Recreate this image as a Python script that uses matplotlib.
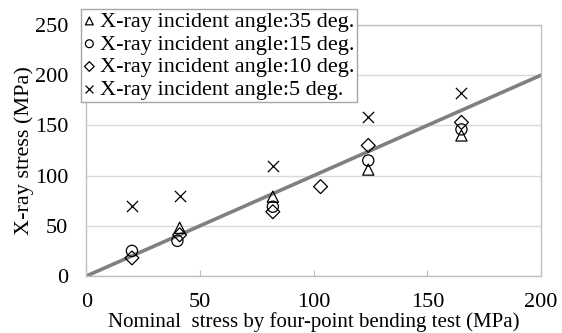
import numpy as np
import matplotlib
matplotlib.use("Agg")
import matplotlib.pyplot as plt

plt.rcParams['font.family'] = ['Liberation Serif', 'DejaVu Serif']

# nominal stress (MPa) and measured X-ray stress for each incident angle
nominal_35 = [41, 82, 124, 165]
stress_35 = [48, 79, 106, 140]

nominal_15 = [20, 40, 82, 124, 165]
stress_15 = [25, 35, 69, 115, 146]

nominal_10 = [20, 41, 82, 103, 124, 165]
stress_10 = [18, 41, 64, 89, 130, 153]

nominal_5 = [20, 41, 82, 124, 165]
stress_5 = [70, 80, 110, 158, 182]

fit_x = [0, 200]
fit_y = [0, 200]

labels = ['X-ray incident angle:35 deg.', 'X-ray incident angle:15 deg.',
          'X-ray incident angle:10 deg.', 'X-ray incident angle:5 deg.']

fig = plt.figure(figsize=(5.62, 3.33), dpi=100)
ax = fig.add_axes([0.1539, 0.1712, 0.8087, 0.7538])

ax.plot(fit_x, fit_y, color='#808080', lw=2.6, zorder=2)

mk = dict(facecolor='none', edgecolor='black', linewidths=0.9, zorder=3)
h1 = ax.scatter(nominal_35, stress_35, marker='^', s=65, **mk)
h2 = ax.scatter(nominal_15, stress_15, marker='o', s=65, **mk)
h3 = ax.scatter(nominal_10, stress_10, marker='D', s=50, **mk)
h4 = ax.scatter(nominal_5, stress_5, marker='x', s=65, c='black', linewidths=0.9, zorder=3)

ax.set_xlim(0, 200)
ax.set_ylim(0, 250)
ax.set_xticks(np.arange(0, 201, 50))
ax.set_yticks(np.arange(0, 251, 50))
ax.yaxis.grid(True, color='#d9d9d9', lw=1)
ax.set_axisbelow(True)
for s in ax.spines.values():
    s.set_color('#bfbfbf')
    s.set_linewidth(1)

fs = 16
ax.tick_params(axis='x', direction='in', length=4, color='#bfbfbf',
               labelsize=fs, pad=12)
ax.tick_params(axis='y', length=0, labelsize=fs, pad=13)

ax.set_xlabel('Nominal  stress by four-point bending test (MPa)', fontsize=15,
              labelpad=0)
ax.set_ylabel('X-ray stress (MPa)', fontsize=fs, labelpad=1)

leg = fig.legend([h1, h2, h3, h4], labels, loc='upper left',
                 bbox_to_anchor=(81 / 562, 1 - 9 / 333),
                 fontsize=fs, markerscale=0.7, handlelength=0.55,
                 handletextpad=0.2, labelspacing=0.1, borderpad=0.1,
                 borderaxespad=0, fancybox=False, framealpha=1)
leg.get_frame().set_edgecolor('#a6a6a6')
leg.get_frame().set_linewidth(1)

fig.savefig('out.png', dpi=100)
